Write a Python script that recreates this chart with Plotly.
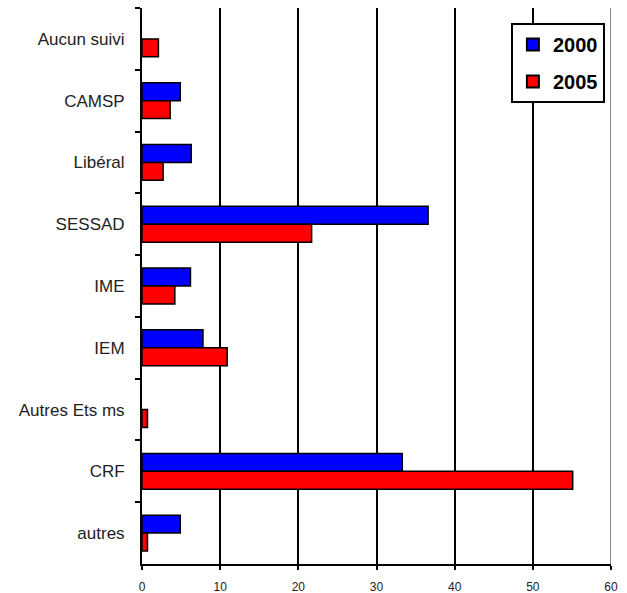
import plotly.graph_objects as go

# Types de suivi (de haut en bas)
categories = ["Aucun suivi", "CAMSP", "Libéral", "SESSAD", "IME", "IEM",
              "Autres Ets ms", "CRF", "autres"]
values_2000 = [None, 4.9, 6.3, 36.6, 6.2, 7.8, None, 33.3, 4.9]
values_2005 = [2.1, 3.6, 2.7, 21.7, 4.2, 10.9, 0.7, 55.1, 0.7]
x_ticks = [0, 10, 20, 30, 40, 50, 60]

narrow = "Liberation Sans Narrow, Arial Narrow, Liberation Sans, Arial, sans-serif"

fig = go.Figure()
fig.add_trace(go.Bar(y=categories, x=values_2000, name="2000", orientation="h",
                     legendgroup="g2000",
                     marker=dict(color="#0000FF", line=dict(color="black", width=1.5))))
fig.add_trace(go.Bar(y=categories, x=values_2005, name="2005", orientation="h",
                     legendgroup="g2005",
                     marker=dict(color="#FF0000", line=dict(color="black", width=1.5))))

# Right-hand boundary line at 60
fig.add_shape(type="line", xref="x", yref="paper", x0=60, x1=60, y0=0, y1=1,
              line=dict(color="#888888", width=2), layer="below")

fig.update_layout(
    width=627, height=593,
    margin=dict(l=142, r=16, t=8, b=29),
    paper_bgcolor="white", plot_bgcolor="white",
    barmode="group", bargap=0.42, bargroupgap=0,
    showlegend=True,
    legend=dict(x=0.987, y=0.973, xanchor="right", yanchor="top",
                bordercolor="black", borderwidth=2, bgcolor="white",
                font=dict(family="Liberation Sans, Arial, sans-serif", size=20,
                          color="black", weight="bold"),
                itemsizing="constant", tracegroupgap=8),
    xaxis=dict(range=[0, 60], tickvals=x_ticks, showgrid=True, gridcolor="black",
               gridwidth=1.5, showline=True, linecolor="black", linewidth=2,
               ticks="outside", ticklen=4, tickcolor="black", tickwidth=1.5,
               zeroline=False, ticklabelstandoff=7, automargin=False,
               tickfont=dict(family=narrow, size=12, color="#222")),
    yaxis=dict(autorange="reversed", showline=True, linecolor="black", linewidth=2,
               ticks="outside", ticklen=5, tickcolor="black", tickwidth=1.5,
               tickson="boundaries", showgrid=False, ticklabelstandoff=12,
               automargin=False,
               tickfont=dict(family=narrow, size=17, color="#222")),
)

fig.write_html("out.html")
